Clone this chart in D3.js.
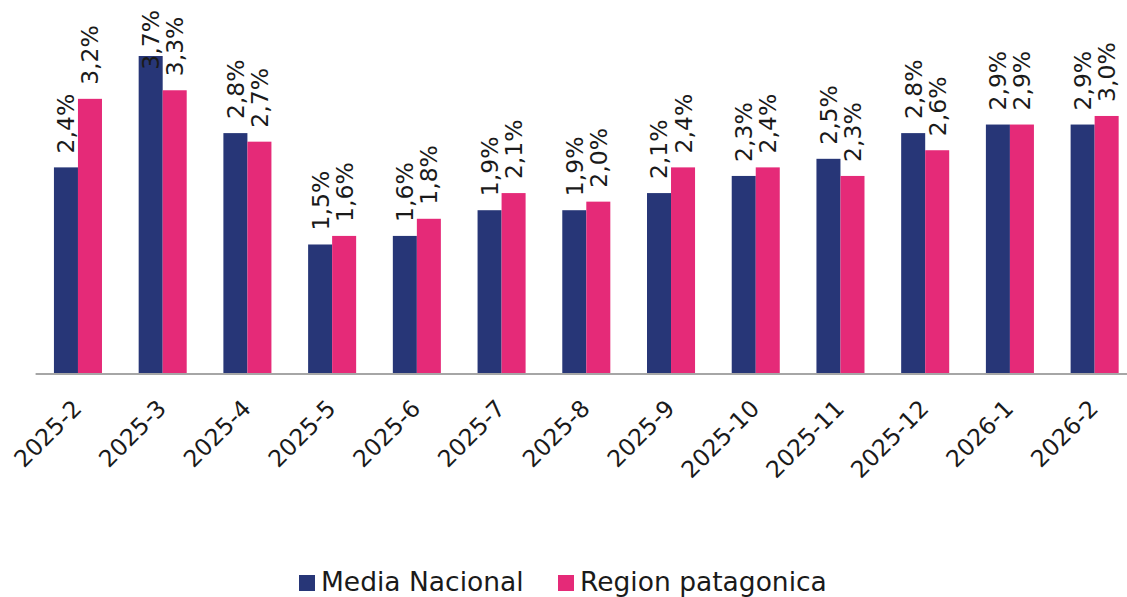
<!DOCTYPE html>
<html>
<head>
<meta charset="utf-8">
<script src="https://cdn.jsdelivr.net/npm/d3@7"></script>
<style>
  body { margin: 0; background: #fff; }
  svg text { font-family: "DejaVu Sans", sans-serif; fill: #1a1a1a; }
</style>
</head>
<body>
<div class="chart"></div>
<script>
// chart data
var months = ["2025-2", "2025-3", "2025-4", "2025-5", "2025-6", "2025-7", "2025-8",
  "2025-9", "2025-10", "2025-11", "2025-12", "2026-1", "2026-2"];
var mediaNacional = [2.4, 3.7, 2.8, 1.5, 1.6, 1.9, 1.9, 2.1, 2.3, 2.5, 2.8, 2.9, 2.9];
var regionPatagonica = [3.2, 3.3, 2.7, 1.6, 1.8, 2.1, 2.0, 2.4, 2.4, 2.3, 2.6, 2.9, 3.0];
var seriesNames = ["Media Nacional", "Region patagonica"];
var colors = ["#273677", "#e52a78"];

var svgWidth = 1127;
var svgHeight = 597;

var x0 = 35.6, x1 = 1137;   // plot runs past the right edge (cropped)
var baseY = 373;

var svg = d3.select(".chart")
  .append("svg")
  .attr("width", svgWidth)
  .attr("height", svgHeight);

var x = d3.scaleBand()
  .domain(months)
  .range([x0, x1])
  .paddingInner(0.433)
  .paddingOuter(0.2165);

var xInner = d3.scaleBand()
  .domain([0, 1])
  .range([0, x.bandwidth()]);

var y = d3.scaleLinear()
  .domain([0, 3.7])
  .range([baseY, baseY - 317]);

var data = months.map(function(m, i) {
  return { month: m, values: [mediaNacional[i], regionPatagonica[i]] };
});

var groups = svg.selectAll(".grp")
  .data(data)
  .enter().append("g")
  .attr("class", "grp")
  .attr("transform", function(d) { return "translate(" + x(d.month) + ",0)"; });

groups.selectAll("rect")
  .data(function(d) { return d.values; })
  .enter().append("rect")
  .attr("x", function(d, i) { return xInner(i); })
  .attr("y", function(d) { return y(d); })
  .attr("width", xInner.bandwidth())
  .attr("height", function(d) { return baseY - y(d); })
  .style("fill", function(d, i) { return colors[i]; });

var fmt = function(v) { return v.toFixed(1).replace(".", ",") + "%"; };

// value labels, rotated; pushed down if they'd run off the top
groups.selectAll(".val")
  .data(function(d) { return d.values; })
  .enter().append("text")
  .attr("class", "val")
  .style("font-size", "23.5px")
  .text(fmt)
  .each(function(d, i) {
    var len = this.getComputedTextLength();
    var start = Math.max(y(d) - 14, len + 10);
    var cx = xInner(i) + xInner.bandwidth() / 2;
    d3.select(this)
      .attr("transform", "translate(" + cx + "," + start + ") rotate(-90)")
      .attr("dy", "0.36em");
  });

// x axis
svg.append("line")
  .attr("x1", x0).attr("x2", x1)
  .attr("y1", baseY + 1).attr("y2", baseY + 1)
  .attr("stroke", "#a6a6a6")
  .attr("stroke-width", 2);

svg.selectAll(".tick-lbl")
  .data(months)
  .enter().append("text")
  .attr("class", "tick-lbl")
  .style("font-size", "23.5px")
  .attr("text-anchor", "end")
  .attr("transform", function(d) {
    return "translate(" + (x(d) + x.bandwidth() / 2 + 5) + "," + (baseY + 37) + ") rotate(-45)";
  })
  .text(function(d) { return d; });

// legend
var legendItems = [{ x: 299, name: seriesNames[0], c: colors[0] },
                   { x: 558, name: seriesNames[1], c: colors[1] }];
var legend = svg.selectAll(".legend")
  .data(legendItems)
  .enter().append("g")
  .attr("class", "legend")
  .attr("transform", function(d) { return "translate(" + d.x + ",575)"; });

legend.append("rect")
  .attr("width", 16).attr("height", 16)
  .style("fill", function(d) { return d.c; });

legend.append("text")
  .attr("x", 22)
  .attr("y", 16)
  .style("font-size", "26.5px")
  .text(function(d) { return d.name; });
</script>
</body>
</html>
